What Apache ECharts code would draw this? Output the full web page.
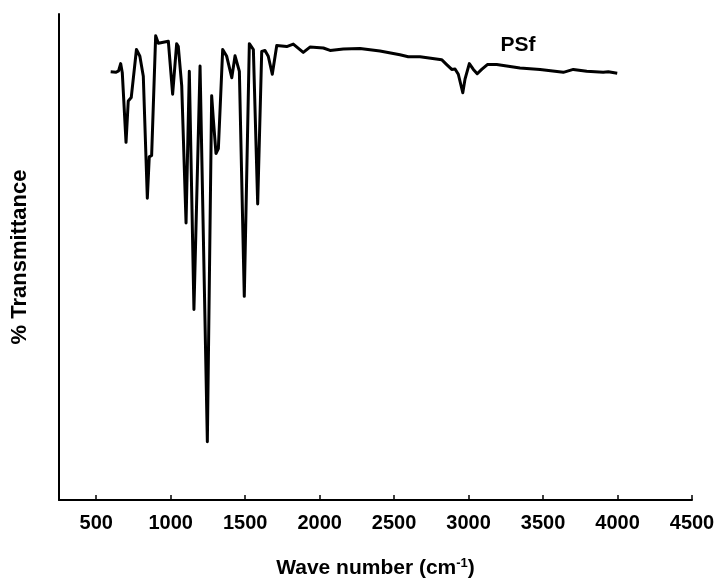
<!DOCTYPE html>
<html>
<head>
<meta charset="utf-8">
<script src="https://cdn.jsdelivr.net/npm/echarts@6/dist/echarts.min.js"></script>
<style>
html,body{margin:0;padding:0;background:#fff;}
#c{width:718px;height:584px;}
</style>
</head>
<body>
<div id="c"></div>
<script>
// Wavenumbers (cm^-1)
const wavenumbers = [597, 633, 650, 664, 675, 700, 715, 735, 770, 778, 793, 816, 843, 856, 872, 899, 917, 984, 991, 1013, 1040, 1051, 1074, 1103, 1125, 1156, 1197, 1246, 1275, 1286, 1304, 1320, 1349, 1376, 1410, 1432, 1461, 1494, 1528, 1555, 1584, 1611, 1633, 1655, 1682, 1712, 1779, 1823, 1890, 1935, 2025, 2070, 2159, 2271, 2405, 2539, 2595, 2674, 2819, 2853, 2887, 2909, 2931, 2961, 2976, 3005, 3032, 3058, 3088, 3126, 3189, 3345, 3480, 3636, 3703, 3793, 3904, 3938, 3998];
// % Transmittance (arbitrary scale 0-100)
const transmittance = [88.1, 88.0, 88.3, 89.8, 87.9, 73.6, 82.1, 82.8, 92.7, 93.0, 91.3, 87.2, 62.1, 70.6, 70.9, 95.5, 94.0, 94.4, 94.6, 83.5, 93.9, 93.3, 85.2, 57.0, 88.2, 39.2, 89.3, 12.0, 83.2, 78.4, 71.3, 72.3, 92.7, 91.3, 86.9, 91.4, 88.2, 41.9, 93.9, 92.7, 60.9, 92.3, 92.5, 91.3, 87.6, 93.5, 93.3, 93.8, 92.1, 93.2, 93.0, 92.5, 92.8, 92.9, 92.4, 91.6, 91.2, 91.2, 90.6, 89.6, 88.6, 88.7, 87.6, 83.8, 86.6, 89.8, 88.6, 87.7, 88.6, 89.6, 89.6, 88.9, 88.6, 88.0, 88.6, 88.2, 88.0, 88.1, 87.8];
const xTicks = [500, 1000, 1500, 2000, 2500, 3000, 3500, 4000, 4500];
const seriesName = 'PSf';
const labelPos = [3332, 93.5];

const data = wavenumbers.map((w, i) => [w, transmittance[i]]);
const FONT = '"Liberation Sans", Arial, sans-serif';

const chart = echarts.init(document.getElementById('c'), null, {renderer: 'canvas'});
chart.setOption({
  animation: false,
  backgroundColor: '#fff',
  grid: {left: 59, right: 26, top: 14, bottom: 79, containLabel: false},
  xAxis: {
    type: 'value',
    min: 250,
    max: 4500,
    name: 'Wave number (cm{sup|-1})',
    nameLocation: 'middle',
    nameGap: 57,
    nameTextStyle: {
      fontFamily: FONT, fontWeight: 'bold', fontSize: 21, color: '#000',
      rich: {sup: {fontFamily: FONT, fontWeight: 'bold', fontSize: 13, color: '#000', verticalAlign: 'top', padding: [0, 0, 10, 0]}}
    },
    axisLine: {show: true, onZero: false, lineStyle: {color: '#000', width: 2}},
    axisTick: {show: true, inside: true, length: 5, customValues: xTicks, lineStyle: {color: '#000', width: 1.5}},
    axisLabel: {show: true, customValues: xTicks, margin: 13, formatter: v => String(v), fontFamily: FONT, fontWeight: 'bold', fontSize: 20, color: '#000'},
    splitLine: {show: false}
  },
  yAxis: {
    type: 'value',
    min: 0,
    max: 100,
    name: '% Transmittance',
    nameLocation: 'middle',
    nameGap: 28,
    nameRotate: 90,
    nameTextStyle: {fontFamily: FONT, fontWeight: 'bold', fontSize: 22, color: '#000'},
    axisLine: {show: true, onZero: false, lineStyle: {color: '#000', width: 2}},
    axisTick: {show: false},
    axisLabel: {show: false},
    splitLine: {show: false}
  },
  series: [{
    name: seriesName,
    type: 'line',
    data: data,
    showSymbol: false,
    symbol: 'none',
    lineStyle: {color: '#000', width: 3, join: 'round'},
    markPoint: {
      symbol: 'circle',
      symbolSize: 0,
      silent: true,
      data: [{coord: labelPos}],
      label: {show: true, position: 'inside', formatter: seriesName, fontFamily: FONT, fontWeight: 'bold', fontSize: 21, color: '#000'}
    }
  }]
});
</script>
</body>
</html>
